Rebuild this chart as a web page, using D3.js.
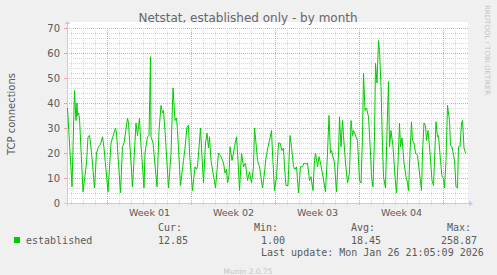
<!DOCTYPE html>
<html><head><meta charset="utf-8">
<script src="https://cdn.jsdelivr.net/npm/d3@7"></script>
<style>body{margin:0;background:#f0f0f0}svg{display:block}</style>
</head><body><svg id="c" width="497" height="275"></svg>
<script>
// hours since 2025-12-25 15:00 UTC
const hours = [1,10,15,18,20,21,23,25,32,39,42,45,47,50,55,59,63,67,71,74,82,88,91,97,99,107,111,114,117,121,123,131,138,141,145,147,154,156,159,161,164,167,168,172,180,184,188,191,193,196,203,208,212,216,219,221,227,233,236,240,243,245,251,256,259,261,267,269,273,277,280,283,285,288,297,303,307,311,313,316,319,321,324,326,330,333,335,339,342,345,349,353,357,361,365,369,373,375,378,381,385,391,394,398,402,405,409,411,415,419,423,426,430,433,435,438,442,446,449,453,456,459,463,467,471,474,478,481,485,488,492,495,497,501,504,507,512,517,521,524,527,529,535,539,543,545,548,551,553,557,561,565,568,571,573,581,585,588,591,593,596,599,603,607,609,612,615,617,620,623,625,628,631,633,637,640,643,645,648,652,656,659,662,665,667,670,674,678,681,683,686,689,691,694,697,701,705,709,711,714,717,719,722,726,730,733,735,738,741,743,747,750,753,755,758,761,765,767,770,775,778,781,783,786,789,791,794,797];
const values = [38,6.5,45,33,40,35,36,34,4.5,16,26.5,27,24,18,6,20,22.5,23.5,26.5,22,4.5,24,26,30,28,4,22.5,24,28,34,32,6.5,32,27,34,26,6,20,24,26.5,27,58.5,26.5,24,6.5,29,39,36,37,29,6,20,46,33,34,29,7,17,22,30.5,31,20,5,14.5,13.5,14.5,30,22,8,24,28,22,26.5,17,6,20,19,17,16,12,13.5,8,11,22.5,17,20,22.5,26.5,17,5,20,14.5,16,9,12.5,8,14.5,30,24,17,14.5,6,10.5,18,22.5,25,29,20,5,10.5,24,24,21,22,14.5,7,7,27,22.5,14.5,13.5,14.5,4,14.5,14.5,16,15.5,16,9,10.5,5,17,20,14.5,18.5,16,10.5,4.5,20,35,20,21,16,4.5,20,34.5,22.5,33,27,16,8,12,33,27,29,25,9,8,26.5,52,37,38,34.5,20,10.5,6.5,26.5,56,48,65,61,46.5,22.5,10.5,6,29,48.5,22.5,29,22.5,10.5,4,16,32,22.5,26,16,10.5,8,5,20,32.5,25,24,20,19,12,5,20,32,31,25,29,20,9,7,17,32.5,26.5,27,17,10.5,10,6,17,39,33,23,22.5,17,6.5,6,22.5,22.5,32,33,22,20,12.5];
const yTicks = [0,10,20,30,40,50,60,70];
const weekLabels = ["Week 01","Week 02","Week 03","Week 04"];
const title = "Netstat, established only - by month";
const yLabel = "TCP connections";
const legendName = "established";
const statHeads = ["Cur:","Min:","Avg:","Max:"];
const statVals = ["12.85","1.00","18.45","258.87"];
const lastUpdate = "Last update: Mon Jan 26 21:05:09 2026";
const footer = "Munin 2.0.75";
const vendor = "RRDTOOL / TOBI OETIKER";

const svg = d3.select("#c");
const L = 67, R = 467, T = 28, B = 203;
const t0 = Date.UTC(2025, 11, 25, 15);
const H = 3600e3;
const x = d3.scaleUtc().domain([new Date(t0), new Date(t0 + 800 * H)]).range([L, R]);
const y = d3.scaleLinear().domain([0, 70]).range([B, T]);

svg.append("rect").attr("x", L).attr("y", T - 6).attr("width", R - L + 1).attr("height", B - T + 6).attr("fill", "#fff");

const grid = svg.append("g");
d3.range(0, 71, 2).forEach(v => {
  const major = v % 10 === 0;
  grid.append("line").attr("x1", L).attr("x2", R + 1)
    .attr("y1", y(v) + 0.5).attr("y2", y(v) + 0.5)
    .attr("stroke", major ? "#e6a3a3" : "#d6d6d6")
    .attr("stroke-dasharray", "1,1");
});
const days = d3.utcDay.range(x.domain()[0], x.domain()[1]);
days.forEach(d => {
  const major = d.getUTCDay() === 1;
  const xx = Math.round(x(d) - 0.5) + 0.5;
  grid.append("line").attr("x1", xx).attr("x2", xx).attr("y1", T).attr("y2", B + (major ? 3 : 2))
    .attr("stroke", major ? "#e6a3a3" : "#d6d6d6").attr("stroke-dasharray", "1,1");
});
yTicks.forEach(v => {
  grid.append("line").attr("x1", L - 3).attr("x2", L).attr("y1", y(v) + 0.5).attr("y2", y(v) + 0.5)
    .attr("stroke", "#e6a3a3");
});

const axC = "#c8c8f5";
svg.append("line").attr("x1", L + 0.5).attr("x2", L + 0.5).attr("y1", B + 3).attr("y2", T - 4).attr("stroke", axC);
svg.append("line").attr("x1", L - 3).attr("x2", R + 3).attr("y1", B + 0.5).attr("y2", B + 0.5).attr("stroke", axC);
svg.append("path").attr("d", `M${L - 2.5},${T - 4}L${L + 0.5},${T - 7}L${L + 3.5},${T - 4}Z`).attr("fill", axC);
svg.append("path").attr("d", `M${R + 2},${B - 2.5}L${R + 6},${B + 0.5}L${R + 2},${B + 3.5}Z`).attr("fill", axC);

const line = d3.line().x((d, i) => x(new Date(t0 + hours[i] * H))).y(d => y(d));
svg.append("path").datum(values).attr("d", line).attr("fill", "none")
  .attr("stroke", "#00cc00").attr("stroke-width", 1);

const txt = "#5a5a5a";
yTicks.forEach(v => {
  svg.append("text").attr("x", 60).attr("y", y(v) + 3.5).attr("text-anchor", "end")
    .attr("font-family", "DejaVu Sans").attr("font-size", 10).attr("fill", txt).text(v);
});
const mondays = d3.utcMonday.range(x.domain()[0], x.domain()[1]);
weekLabels.forEach((w, i) => {
  const c = x(new Date(+mondays[i] + 3.5 * 24 * H));
  svg.append("text").attr("x", c).attr("y", 216).attr("text-anchor", "middle")
    .attr("font-family", "DejaVu Sans").attr("font-size", 9.5).attr("fill", txt).text(w);
});
svg.append("text").attr("x", 248).attr("y", 22).attr("text-anchor", "middle")
  .attr("font-family", "DejaVu Sans").attr("font-size", 12).attr("fill", "#666").text(title);
svg.append("text").attr("transform", "translate(15,114) rotate(-90)").attr("text-anchor", "middle")
  .attr("font-family", "DejaVu Sans").attr("font-size", 10).attr("fill", txt).text(yLabel);
svg.append("text").attr("transform", "translate(485,5) rotate(90)").attr("text-anchor", "start")
  .attr("font-family", "DejaVu Sans").attr("font-size", 7).attr("fill", "#c4c4c4").text(vendor);

const mono = "DejaVu Sans Mono";
svg.append("rect").attr("x", 14).attr("y", 237).attr("width", 6).attr("height", 6).attr("fill", "#00cc00");
svg.append("text").attr("x", 26).attr("y", 243.5).attr("font-family", mono).attr("font-size", 10).attr("fill", txt).text(legendName);
const headX = [158, 254, 351, 447];
const valX = [158, 261, 351, 441];
statHeads.forEach((h, i) => {
  svg.append("text").attr("x", headX[i]).attr("y", 231).attr("font-family", mono).attr("font-size", 10).attr("fill", txt).text(h);
  svg.append("text").attr("x", valX[i]).attr("y", 243.5).attr("font-family", mono).attr("font-size", 10).attr("fill", txt).text(statVals[i]);
});
svg.append("text").attr("x", 261).attr("y", 255.5).attr("font-family", mono).attr("font-size", 10).attr("fill", txt).text(lastUpdate);
svg.append("text").attr("x", 248).attr("y", 274).attr("text-anchor", "middle")
  .attr("font-family", "DejaVu Sans").attr("font-size", 7.5).attr("fill", "#c4c4c4").text(footer);
</script></body></html>
